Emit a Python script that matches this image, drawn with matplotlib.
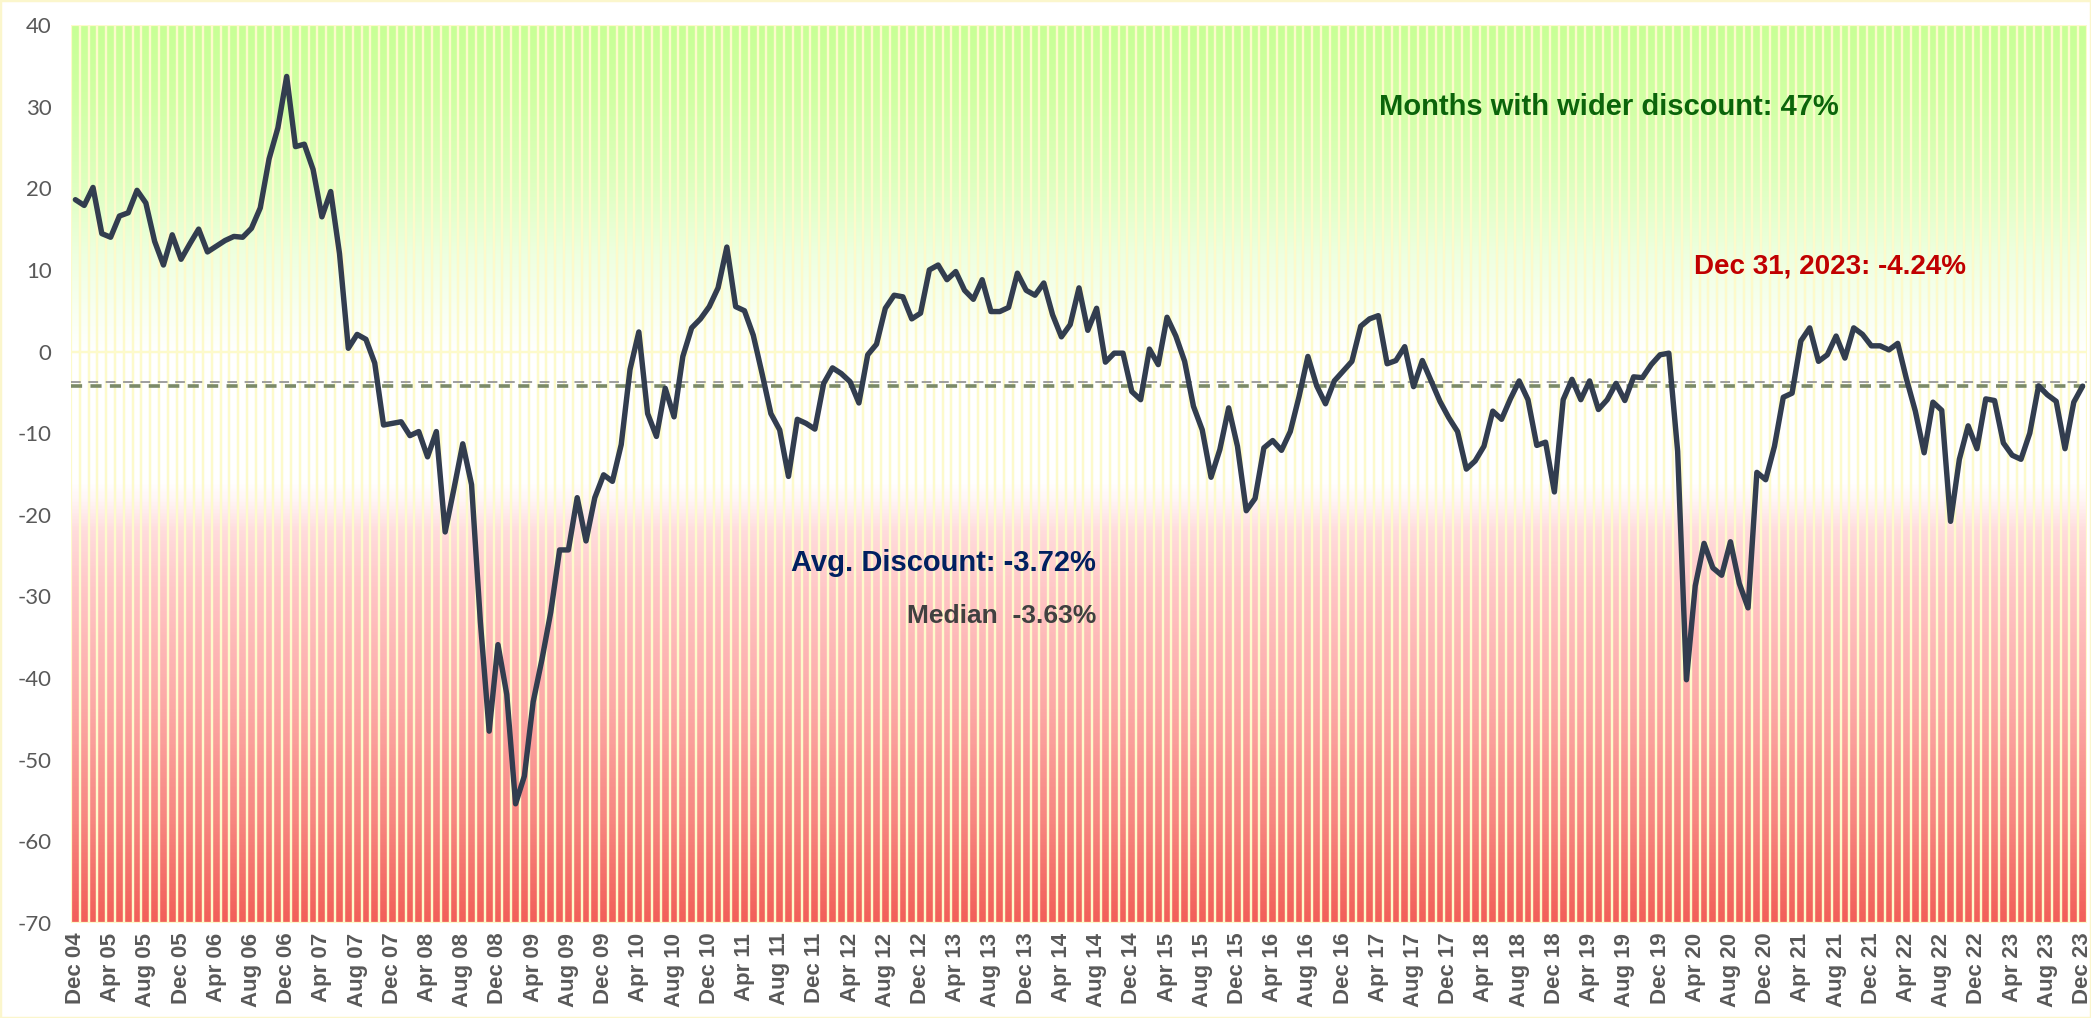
import numpy as np
import pandas as pd
import matplotlib
matplotlib.use("Agg")
import matplotlib.pyplot as plt
from matplotlib.colors import LinearSegmentedColormap

plt.rcParams["lines.scale_dashes"] = False

# ---------------- data ----------------
start_month = "2004-12-01"
discount = [
    18.6, 17.9, 20.1, 14.45, 14.0, 16.6, 17.0, 19.75, 18.2, 13.5,
    10.6, 14.3, 11.3, 13.2, 15.0, 12.2, 12.9, 13.6, 14.1, 14.0,
    15.1, 17.6, 23.6, 27.4, 33.7, 25.1, 25.4, 22.3, 16.5, 19.6,
    12.0, 0.4, 2.1, 1.5, -1.4, -9.0, -8.8, -8.6, -10.3, -9.8,
    -12.9, -9.8, -22.1, -16.8, -11.3, -16.3, -33.1, -46.5, -35.9, -42.0,
    -55.4, -52.0, -42.9, -37.7, -31.9, -24.3,
    -24.3, -17.9, -23.2, -17.9, -15.1, -15.9, -11.4, -2.2, 2.4, -7.6,
    -10.4, -4.5, -8.0, -0.6, 2.9, 4.0, 5.5, 7.8, 12.8, 5.5,
    5.0, 2.0, -2.7, -7.6, -9.6, -15.3, -8.3, -8.8, -9.5, -3.9,
    -2.0, -2.7, -3.7, -6.3, -0.4, 0.9, 5.3, 6.9, 6.7, 4.0,
    4.7, 10.0, 10.6, 8.8, 9.8, 7.5, 6.4, 8.8, 4.9, 4.9,
    5.4, 9.6, 7.5, 6.9, 8.4, 4.5, 1.8, 3.3,
    7.8, 2.6, 5.3, -1.3, -0.2, -0.2, -4.9, -5.9, 0.3, -1.6,
    4.2, 1.9, -1.2, -6.7, -9.6, -15.4, -12.0, -6.9, -11.6, -19.5,
    -18.0, -11.8, -10.9, -12.1, -9.8, -5.5, -0.6, -4.2, -6.4, -3.6,
    -2.4, -1.2, 3.1, 4.0, 4.4, -1.5, -1.1, 0.6, -4.3, -1.1,
    -3.6, -6.1, -8.1, -9.8, -14.4, -13.4, -11.6, -7.3, -8.3, -5.8,
    -3.6, -5.9, -11.5, -11.1, -17.2, -5.9, -3.4, -5.9, -3.6, -7.1,
    -5.9, -3.9, -6.0, -3.1, -3.2, -1.6, -0.4, -0.2, -12.2, -40.2,
    -28.7, -23.5, -26.5, -27.4, -23.3, -28.4, -31.4, -14.8, -15.7, -11.6,
    -5.6, -5.1, 1.3, 2.9, -1.2, -0.4, 1.9, -0.8, 2.9, 2.1,
    0.7, 0.7, 0.2, 1.0, -3.4, -7.3, -12.4, -6.2, -7.2, -20.8,
    -13.2, -9.1, -11.9, -5.8, -6.0, -11.2, -12.7, -13.2, -10.0, -4.2,
    -5.3, -6.1, -11.9, -6.2, -4.24,
]
avg_discount = -3.72
median_discount = -3.63
latest_discount = -4.24
wider_share = 47
band_top = 40
band_bottom = -70
y_ticks = [40, 30, 20, 10, 0, -10, -20, -30, -40, -50, -60, -70]

months = pd.date_range(start_month, periods=len(discount), freq="MS")
month_labels = [m.strftime("%b %y") for m in months]

# ---------------- figure ----------------
W, H = 2091, 1018
fig = plt.figure(figsize=(W / 100, H / 100), dpi=100)
fig.patch.set_facecolor("white")
ax = fig.add_axes([71 / W, 95 / H, (2087 - 71) / W, (923 - 25) / H])

x = np.arange(len(discount))
ax.set_xlim(-0.5, len(discount) - 0.5)
ax.set_ylim(band_bottom, band_top)

# background gradient
stops = [
    (-70, "#f25f59"), (-58, "#f7857f"), (-44, "#fca8a5"), (-30, "#ffc4c4"),
    (-22, "#ffdcdc"), (-18.5, "#fff4f4"), (-16, "#ffffff"), (0, "#ffffff"),
    (4, "#fafff4"), (12, "#eeffdf"), (22, "#dcffbb"), (32, "#cfffa2"), (40, "#c8ff96"),
]
pos = [(v - band_bottom) / (band_top - band_bottom) for v, _ in stops]
cmap = LinearSegmentedColormap.from_list("bg", list(zip(pos, [c for _, c in stops])))
grad = np.linspace(band_bottom, band_top, 1200).reshape(-1, 1)
ax.imshow(grad, extent=(-0.5, len(discount) - 0.5, band_bottom, band_top),
          origin="lower", aspect="auto", cmap=cmap, vmin=band_bottom, vmax=band_top,
          interpolation="bilinear", zorder=0)

# background bars (edges give the striped look)
edge_col = "#fdfacb"
ax.bar(x, [band_top] * len(x), width=1.0, bottom=0, facecolor="none",
       edgecolor=edge_col, linewidth=1.6, zorder=1)
ax.bar(x, [band_bottom] * len(x), width=1.0, bottom=0, facecolor="none",
       edgecolor=edge_col, linewidth=1.6, zorder=1)

# reference lines
ax.axhline(avg_discount, color="#8e8e8e", linewidth=1.2, dashes=(7, 5.5), zorder=2)
ax.axhline(latest_discount, color="#7b8a68", linewidth=2.6, dashes=(8, 6), zorder=2)

# main line
ax.plot(x, discount, color="#323d4f", linewidth=3.9, solid_joinstyle="round",
        solid_capstyle="round", zorder=4)

# axes styling
for s in ax.spines.values():
    s.set_visible(False)
ax.set_yticks(y_ticks)
ax.set_yticklabels([str(t) for t in y_ticks], fontsize=16, color="#595959", family="Lato")
ax.tick_params(axis="y", length=0, pad=14)
tick_idx = list(range(0, len(discount), 4))
ax.set_xticks(tick_idx)
ax.set_xticklabels([month_labels[i] for i in tick_idx], rotation=90, fontsize=16,
                   fontweight="bold", color="#595959", family="Liberation Sans")
ax.tick_params(axis="x", length=0, pad=7)

# annotations
def fx(px):
    return px / W

def fy(py):
    return 1 - py / H

fig.text(fx(1609), fy(107), f"Months with wider discount: {wider_share}%", ha="center", va="center",
         fontsize=21, fontweight="bold", color="#0b640b", family="Liberation Sans")
fig.text(fx(1830), fy(267), f"Dec 31, 2023: {latest_discount:.2f}%", ha="center", va="center",
         fontsize=20, fontweight="bold", color="#c00000", family="Liberation Sans")
fig.text(fx(1096), fy(563), f"Avg. Discount: {avg_discount:.2f}%", ha="right", va="center",
         fontsize=21, fontweight="bold", color="#002060", family="Liberation Sans")
fig.text(fx(1096), fy(616), f"Median  {median_discount:.2f}%", ha="right", va="center",
         fontsize=19, fontweight="bold", color="#404040", family="Liberation Sans")

# faint chart border
fig.patches.append(plt.Rectangle((0, 0), 1, 1, transform=fig.transFigure, fill=False,
                                 edgecolor="#fbf6cc", linewidth=2.5))

fig.savefig("out.png", dpi=100)
